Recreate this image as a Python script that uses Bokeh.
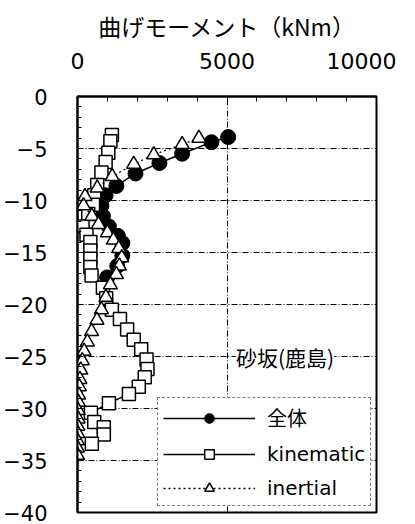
from bokeh.plotting import figure
from bokeh.models import (Range1d, FixedTicker, Legend, LegendItem, Label)
from bokeh.embed import file_html
from bokeh.resources import INLINE

# ---- data ----
depth_total = [-3.9, -4.4, -5.5, -6.4, -7.4, -8.6, -9.5, -10.5, -11.5, -12.5,
               -13.4, -14.1, -15.3, -16.3, -17.4]
moment_total = [5040, 4480, 3500, 2740, 1940, 1300, 940, 800, 850, 1050,
                1350, 1500, 1500, 1330, 990]

depth_kin = [-3.7, -4.3, -5.4, -6.3, -7.3, -8.5, -9.5, -10.4, -11.3, -12.5,
             -13.3, -14.0, -14.8, -15.6, -16.4, -17.2, -18.4, -19.4, -20.5,
             -21.4, -22.4, -23.4, -24.3, -25.3, -26.2, -27.0, -27.9, -28.6,
             -29.5, -30.4, -31.3, -31.8, -32.5, -33.4]
moment_kin = [1150, 1100, 1030, 940, 800, 660, 560, 520, 360, 170,
              300, 430, 430, 430, 430, 470, 850, 960, 1150,
              1420, 1660, 1880, 2130, 2310, 2340, 2250, 2050, 1720,
              1050, 450, 560, 880, 880, 480]

depth_ine = [-4.0, -4.6, -5.6, -6.5, -7.7, -8.8, -9.6, -10.5, -11.5, -12.3,
             -13.1, -13.8, -14.6, -15.5, -16.3, -17.1, -18.1, -19.3, -20.5,
             -21.5, -22.6, -23.6, -24.5, -25.4, -26.3, -27.2, -27.9, -28.7,
             -29.4, -30.2, -31.0, -31.7, -32.4, -33.1, -33.8, -34.5]
moment_ine = [4060, 3500, 2550, 1880, 1160, 660, 250, 200, 480, 700,
              1000, 1200, 1380, 1480, 1400, 1300, 1100, 950, 800,
              650, 470, 330, 220, 160, 110, 80, 60, 40,
              30, 20, 20, 10, 10, 0, 0, 0]

x_ticks = [0, 5000, 10000]
y_ticks = [0, -5, -10, -15, -20, -25, -30, -35, -40]
y_tick_labels = ["0", "−5", "−10", "−15", "−20", "−25", "−30", "−35", "−40"]
series_names = ["全体", "kinematic", "inertial"]
x_title = "曲げモーメント（kNm）"
site_label = "砂坂(鹿島)"

FONT = "'DejaVu Sans', 'Noto Sans CJK JP'"
CJK = "'Noto Sans CJK JP'"

p = figure(output_backend="svg", toolbar_location=None,
           frame_width=299, frame_height=416,
           min_border_left=74, min_border_top=96, min_border_right=20,
           min_border_bottom=10,
           x_range=Range1d(0, 10000), y_range=Range1d(-40, 0),
           x_axis_location="above")
p.background_fill_color = "white"
p.border_fill_color = "white"
p.outline_line_color = "black"
p.outline_line_width = 2

# axes
xa = p.xaxis[0]
xa.ticker = FixedTicker(ticks=x_ticks, minor_ticks=list(range(0, 10001, 1000)))
xa.axis_label = x_title
xa.axis_label_text_font = CJK
xa.axis_label_text_font_size = "23px"
xa.axis_label_text_font_style = "normal"
xa.axis_label_text_color = "black"
xa.axis_label_standoff = 7
xa.major_label_text_font = FONT
xa.major_label_text_font_size = "22px"
xa.major_label_text_color = "black"
xa.major_label_standoff = 28
xa.major_tick_out = 0
xa.major_tick_in = 6
xa.minor_tick_out = 0
xa.minor_tick_in = 5
xa.axis_line_width = 2
xa.axis_line_color = "black"
xa.major_tick_line_color = "black"
xa.minor_tick_line_color = "black"

ya = p.yaxis[0]
ya.ticker = FixedTicker(ticks=y_ticks, minor_ticks=list(range(-40, 1)))
ya.major_label_overrides = {t: s for t, s in zip(y_ticks, y_tick_labels)}
ya.major_label_text_font = FONT
ya.major_label_text_font_size = "21px"
ya.major_label_text_color = "black"
ya.major_label_standoff = 30
ya.major_tick_out = 0
ya.major_tick_in = 6
ya.minor_tick_out = 0
ya.minor_tick_in = 4
ya.axis_line_width = 2
ya.axis_line_color = "black"
ya.major_tick_line_color = "black"
ya.minor_tick_line_color = "black"

# grid
p.xgrid.ticker = FixedTicker(ticks=[5000])
p.ygrid.ticker = FixedTicker(ticks=y_ticks[1:-1])
for g in (p.xgrid[0], p.ygrid[0]):
    g.grid_line_color = "black"
    g.grid_line_width = 1
    g.grid_line_dash = "6 2 1 2"

# series
l1 = p.line(moment_total, depth_total, line_color="black", line_width=1.5)
s1 = p.scatter(moment_total, depth_total, marker="circle", size=15,
               fill_color="black", line_color="black")
l2 = p.line(moment_kin, depth_kin, line_color="black", line_width=1.5)
s2 = p.scatter(moment_kin, depth_kin, marker="square", size=13,
               fill_color="white", line_color="black", line_width=1.5)
l3 = p.line(moment_ine, depth_ine, line_color="black", line_width=1.3,
            line_dash="2 3")
s3 = p.scatter(moment_ine, depth_ine, marker="triangle", size=14,
               fill_color="white", line_color="black", line_width=1.5)

lab = Label(x=5300, y=-25, text=site_label, text_font=CJK,
            text_font_size="21px", text_color="black", text_baseline="middle",
            text_align="left", background_fill_color="white",
            x_units="data", y_units="data")
p.add_layout(lab)

legend = Legend(items=[
    LegendItem(label=series_names[0], renderers=[l1, s1]),
    LegendItem(label=series_names[1], renderers=[l2, s2]),
    LegendItem(label=series_names[2], renderers=[l3, s3]),
], location=(80, 6))
legend.label_text_font = FONT
legend.label_text_font_size = "20px"
legend.label_text_color = "black"
legend.glyph_width = 92
legend.glyph_height = 24
legend.label_height = 24
legend.spacing = 10
legend.padding = 5
legend.margin = 0
legend.label_standoff = 12
legend.border_line_color = "black"
legend.border_line_width = 1
legend.border_line_dash = "6 2 1 2"
legend.background_fill_color = "white"
legend.background_fill_alpha = 1
p.add_layout(legend, "center")

open("out.html", "w").write(file_html(p, INLINE))
